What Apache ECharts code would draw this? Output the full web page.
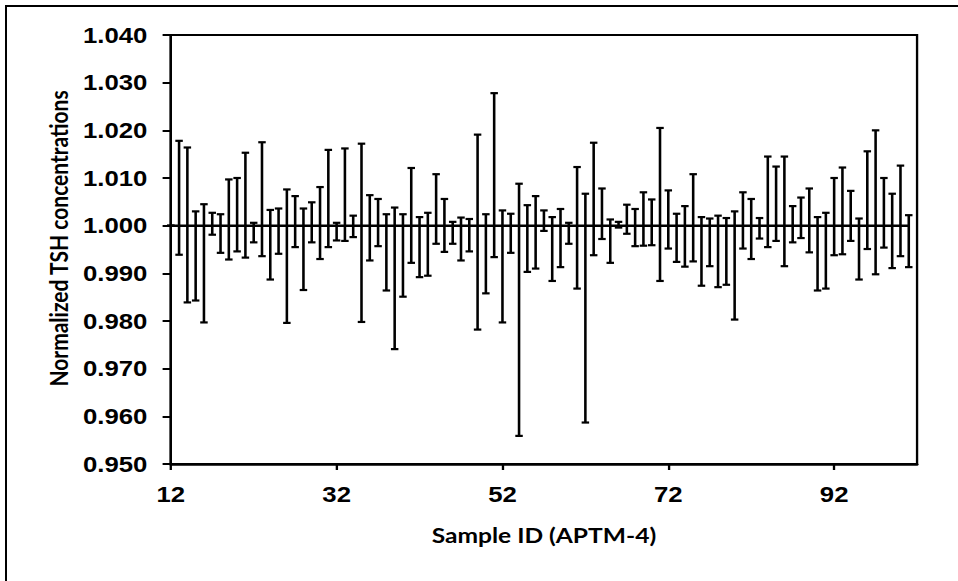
<!DOCTYPE html>
<html>
<head>
<meta charset="utf-8">
<script src="https://cdn.jsdelivr.net/npm/echarts@6/dist/echarts.min.js"></script>
<style>
  html, body { margin: 0; padding: 0; background: #fff; overflow: hidden; width: 958px; height: 581px; }
  #frame { position: absolute; left: 5px; top: 5px; width: 2000px; height: 2000px;
           border-left: 2px solid #000; border-top: 2px solid #000; pointer-events: none; }
  #chart { position: absolute; left: 0; top: 0; width: 819px; height: 581px;
           transform: scaleX(1.16972); transform-origin: 0 0; }
</style>
</head>
<body>
<div id="frame"></div>
<div id="chart"></div>
<script>
// Sample IDs (APTM-4)
const samples = [12,13,14,15,16,17,18,19,20,21,22,23,24,25,26,27,28,29,30,31,
  32,33,34,35,36,37,38,39,40,41,42,43,44,45,46,47,48,49,50,51,
  52,53,54,55,56,57,58,59,60,61,62,63,64,65,66,67,68,69,70,71,
  72,73,74,75,76,77,78,79,80,81,82,83,84,85,86,87,88,89,90,91,
  92,93,94,95,96,97,98,99,100,101];

// Normalized mean value of each sample
const means = [1.000,1.000,1.000,1.000,1.000,1.000,1.000,1.000,1.000,1.000,
  1.000,1.000,1.000,1.000,1.000,1.000,1.000,1.000,1.000,1.000,
  1.000,1.000,1.000,1.000,1.000,1.000,1.000,1.000,1.000,1.000,
  1.000,1.000,1.000,1.000,1.000,1.000,1.000,1.000,1.000,1.000,
  1.000,1.000,1.000,1.000,1.000,1.000,1.000,1.000,1.000,1.000,
  1.000,1.000,1.000,1.000,1.000,1.000,1.000,1.000,1.000,1.000,
  1.000,1.000,1.000,1.000,1.000,1.000,1.000,1.000,1.000,1.000,
  1.000,1.000,1.000,1.000,1.000,1.000,1.000,1.000,1.000,1.000,
  1.000,1.000,1.000,1.000,1.000,1.000,1.000,1.000,1.000,1.000];

// Upper end of each error bar
const highs = [1.0000,1.0178,1.0164,1.0030,1.0045,1.0027,1.0024,1.0097,1.0100,1.0153,
  1.0006,1.0175,1.0033,1.0036,1.0076,1.0062,1.0036,1.0049,1.0081,1.0159,
  1.0006,1.0162,1.0021,1.0172,1.0064,1.0056,1.0024,1.0038,1.0024,1.0121,
  1.0018,1.0027,1.0108,1.0056,1.0008,1.0017,1.0014,1.0191,1.0024,1.0278,
  1.0032,1.0025,1.0088,1.0043,1.0062,1.0032,1.0018,1.0035,1.0006,1.0123,
  1.0067,1.0174,1.0078,1.0013,1.0008,1.0044,1.0035,1.0070,1.0055,1.0205,
  1.0074,1.0025,1.0041,1.0108,1.0018,1.0015,1.0021,1.0016,1.0030,1.0070,
  1.0056,1.0016,1.0145,1.0124,1.0145,1.0041,1.0059,1.0078,1.0018,1.0027,
  1.0100,1.0122,1.0073,1.0015,1.0156,1.0200,1.0100,1.0067,1.0126,1.0022];

// Lower end of each error bar
const lows = [1.0000,0.9939,0.9839,0.9843,0.9797,0.9981,0.9943,0.9929,0.9946,0.9933,
  0.9965,0.9936,0.9887,0.9941,0.9796,0.9955,0.9865,0.9965,0.9930,0.9955,
  0.9969,0.9968,0.9976,0.9798,0.9927,0.9957,0.9864,0.9741,0.9851,0.9922,
  0.9892,0.9895,0.9962,0.9945,0.9962,0.9927,0.9946,0.9782,0.9858,0.9934,
  0.9797,0.9943,0.9559,0.9903,0.9910,0.9989,0.9884,0.9913,0.9962,0.9868,
  0.9587,0.9938,0.9972,0.9922,0.9996,0.9983,0.9957,0.9958,0.9959,0.9884,
  0.9952,0.9924,0.9914,0.9925,0.9874,0.9915,0.9871,0.9876,0.9803,0.9952,
  0.9930,0.9973,0.9955,0.9968,0.9915,0.9965,0.9974,0.9944,0.9864,0.9868,
  0.9938,0.9940,0.9968,0.9887,0.9951,0.9898,0.9954,0.9911,0.9936,0.9913];

// Tick labels
const xTicks = [12, 32, 52, 72, 92];
const yMin = 0.950, yMax = 1.040, yStep = 0.010;
const xMin = 12, xMax = 102;

const barData = samples.map((s, i) => [s, lows[i], highs[i]]);
const meanData = samples.map((s, i) => [s, means[i]]);

const chart = echarts.init(document.getElementById('chart'), null, { renderer: 'svg' });
const labelFont = 'Liberation Sans, Arial, sans-serif';
const titleFont = 'Lato, Carlito, sans-serif';

chart.setOption({
  animation: false,
  backgroundColor: 'transparent',
  grid: { left: 146, right: 35, top: 35, bottom: 117, show: true,
          borderColor: '#000', borderWidth: 2, backgroundColor: 'transparent' },
  xAxis: {
    type: 'value', min: xMin, max: xMax,
    name: 'Sample ID (APTM-4)', nameLocation: 'middle', nameGap: 60,
    nameTextStyle: { fontFamily: titleFont, fontWeight: 'bold', fontSize: 21, color: '#000' },
    axisLine: { show: true, onZero: false, lineStyle: { color: '#000', width: 2.5 } },
    axisTick: { show: true, length: 6, customValues: xTicks, lineStyle: { color: '#000', width: 2 } },
    axisLabel: { customValues: xTicks, margin: 19, fontFamily: labelFont, fontWeight: 'bold',
                 fontSize: 22, color: '#000' },
    splitLine: { show: false }
  },
  yAxis: {
    type: 'value', min: yMin, max: yMax, interval: yStep,
    name: 'Normalized TSH concentrations', nameLocation: 'middle', nameGap: 86,
    nameTextStyle: { fontFamily: titleFont, fontWeight: 'bold', fontSize: 21, color: '#000',
                     padding: [0, 0, 0, 22] },
    axisLine: { show: true, lineStyle: { color: '#000', width: 2 } },
    axisTick: { show: true, length: 7, lineStyle: { color: '#000', width: 2 } },
    axisLabel: { margin: 20, fontFamily: labelFont, fontWeight: 'bold', fontSize: 22, color: '#000',
                 formatter: v => v.toFixed(3) },
    splitLine: { show: false }
  },
  series: [
    {
      type: 'custom',
      data: barData,
      z: 3,
      renderItem: function (params, api) {
        const x = api.value(0), lo = api.value(1), hi = api.value(2);
        const pHi = api.coord([x, hi]);
        const pLo = api.coord([x, lo]);
        const w = 3.2;
        const st = { stroke: '#000', lineWidth: 2.2 };
        return {
          type: 'group',
          children: [
            { type: 'line', shape: { x1: pHi[0], y1: pHi[1], x2: pLo[0], y2: pLo[1] }, style: st },
            { type: 'line', shape: { x1: pHi[0] - w, y1: pHi[1], x2: pHi[0] + w, y2: pHi[1] }, style: st },
            { type: 'line', shape: { x1: pLo[0] - w, y1: pLo[1], x2: pLo[0] + w, y2: pLo[1] }, style: st }
          ]
        };
      }
    },
    {
      type: 'line',
      data: meanData,
      z: 4,
      symbol: 'none',
      lineStyle: { color: '#000', width: 2.5 }
    }
  ]
});
</script>
</body>
</html>
